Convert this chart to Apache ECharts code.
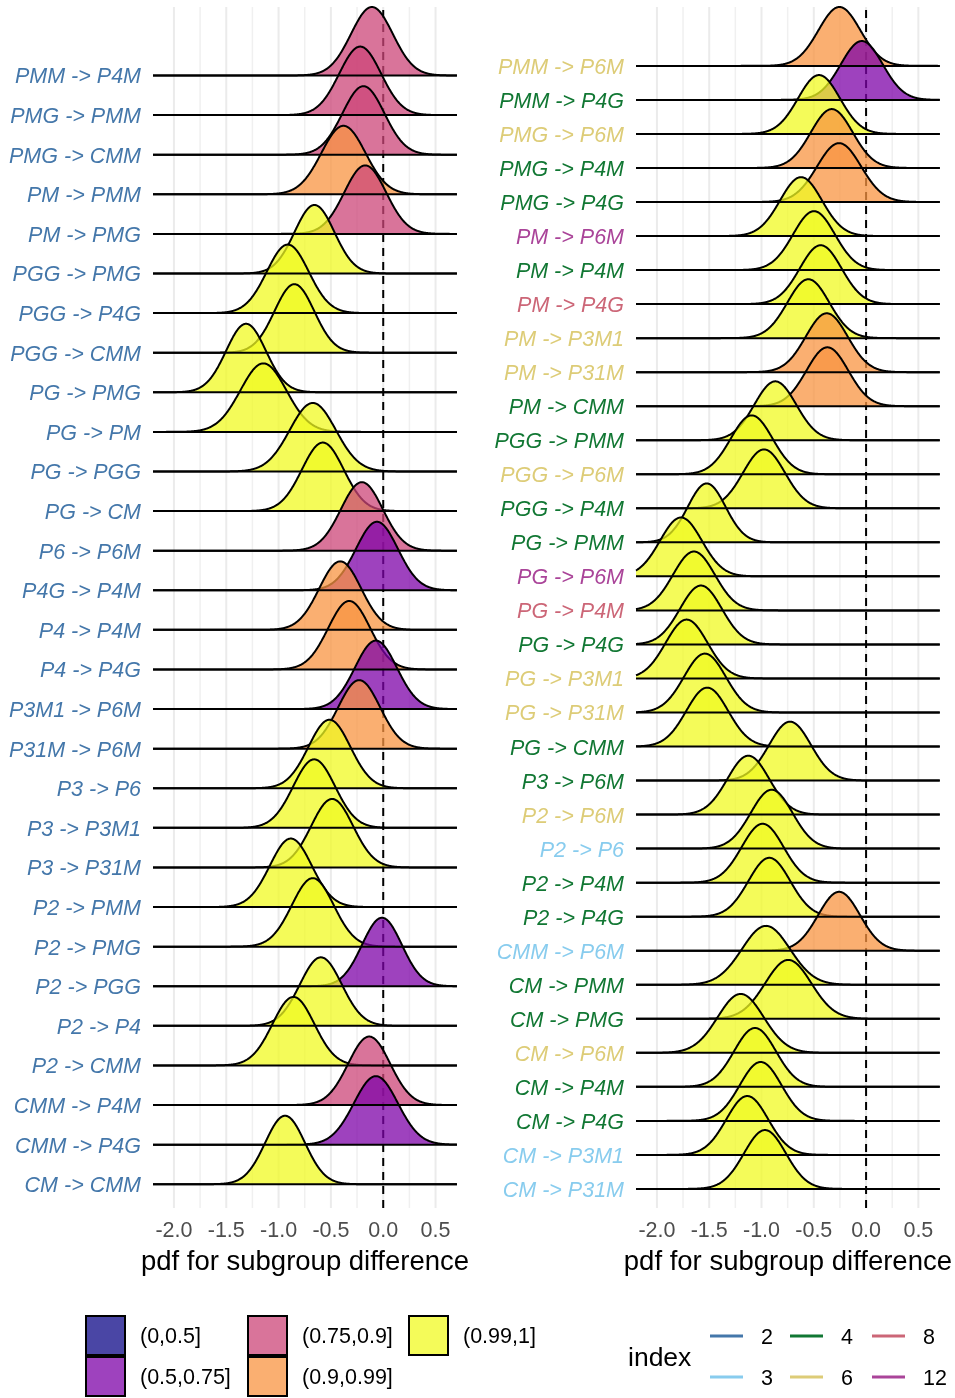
<!DOCTYPE html>
<html><head><meta charset="utf-8">
<script src="https://cdn.jsdelivr.net/npm/echarts@6/dist/echarts.min.js"></script>
<style>html,body{margin:0;padding:0;background:#fff}#c{width:955px;height:1398px}</style>
</head><body><div id="c"></div><script>
// ---------------- data ----------------
const leftLabels = ['PMM -> P4M','PMG -> PMM','PMG -> CMM','PM -> PMM','PM -> PMG','PGG -> PMG','PGG -> P4G','PGG -> CMM','PG -> PMG','PG -> PM','PG -> PGG','PG -> CM','P6 -> P6M','P4G -> P4M','P4 -> P4M','P4 -> P4G','P3M1 -> P6M','P31M -> P6M','P3 -> P6','P3 -> P3M1','P3 -> P31M','P2 -> PMM','P2 -> PMG','P2 -> PGG','P2 -> P4','P2 -> CMM','CMM -> P4M','CMM -> P4G','CM -> CMM'];
const leftMeans = [-0.108,-0.220,-0.189,-0.380,-0.172,-0.657,-0.912,-0.849,-1.311,-1.145,-0.673,-0.577,-0.204,-0.060,-0.411,-0.325,-0.070,-0.230,-0.514,-0.660,-0.488,-0.883,-0.673,-0.012,-0.596,-0.858,-0.134,-0.070,-0.938];
const leftSds = [0.20,0.20,0.20,0.21,0.20,0.19,0.20,0.19,0.19,0.22,0.22,0.20,0.20,0.20,0.20,0.20,0.20,0.20,0.20,0.20,0.20,0.20,0.20,0.19,0.20,0.20,0.20,0.21,0.19];
const leftFill = [2,2,2,3,2,4,4,4,4,4,4,4,2,1,3,3,1,3,4,4,4,4,4,1,4,4,2,1,4];
const leftIndex = [2,2,2,2,2,2,2,2,2,2,2,2,2,2,2,2,2,2,2,2,2,2,2,2,2,2,2,2,2];

const rightLabels = ['PMM -> P6M','PMM -> P4G','PMG -> P6M','PMG -> P4M','PMG -> P4G','PM -> P6M','PM -> P4M','PM -> P4G','PM -> P3M1','PM -> P31M','PM -> CMM','PGG -> PMM','PGG -> P6M','PGG -> P4M','PG -> PMM','PG -> P6M','PG -> P4M','PG -> P4G','PG -> P3M1','PG -> P31M','PG -> CMM','P3 -> P6M','P2 -> P6M','P2 -> P6','P2 -> P4M','P2 -> P4G','CMM -> P6M','CM -> PMM','CM -> PMG','CM -> P6M','CM -> P4M','CM -> P4G','CM -> P3M1','CM -> P31M'];
const rightMeans = [-0.255,-0.041,-0.450,-0.328,-0.258,-0.622,-0.498,-0.434,-0.552,-0.376,-0.370,-0.868,-1.094,-0.976,-1.524,-1.770,-1.646,-1.579,-1.716,-1.541,-1.519,-0.727,-1.126,-0.903,-0.989,-0.925,-0.258,-0.957,-0.744,-1.199,-1.062,-1.008,-1.136,-0.967];
const rightSds = [0.20,0.20,0.20,0.20,0.21,0.20,0.20,0.20,0.20,0.20,0.20,0.20,0.20,0.20,0.18,0.20,0.20,0.20,0.20,0.20,0.20,0.20,0.20,0.20,0.20,0.20,0.20,0.23,0.22,0.22,0.20,0.20,0.20,0.20];
const rightFill = [3,1,4,3,3,4,4,4,4,3,3,4,4,4,4,4,4,4,4,4,4,4,4,4,4,4,3,4,4,4,4,4,4,4];
const rightIndex = [6,4,6,4,4,12,4,8,6,6,4,4,6,4,4,12,8,4,6,6,4,4,6,3,4,4,3,4,4,6,4,4,3,3];

const fillBins = ['(0,0.5]','(0.5,0.75]','(0.75,0.9]','(0.9,0.99]','(0.99,1]'];
const indexLevels = [2,3,4,6,8,12];
const xTicks = [-2.0,-1.5,-1.0,-0.5,0.0,0.5];
const xGrid = [-2.0,-1.75,-1.5,-1.25,-1.0,-0.75,-0.5,-0.25,0.0,0.25,0.5];

// ---------------- styles ----------------
const FONT = '"Liberation Sans", Arial, sans-serif';
const fillBase = ['13,8,135','126,3,168','204,70,120','248,148,65','240,249,33'];
const fillColors = fillBase.map(c => 'rgba(' + c + ',0.75)');
const indexColors = {2:'#4477AA',3:'#88CCEE',4:'#117733',6:'#DDCC77',8:'#CC6677',12:'#AA4499'};
const X_MIN = -2.2, X_MAX = 0.705, H = 1.73;
const panels = [
  {labels: leftLabels, means: leftMeans, sds: leftSds, fill: leftFill, idx: leftIndex, left: 153, yMinPad: 0.6},
  {labels: rightLabels, means: rightMeans, sds: rightSds, fill: rightFill, idx: rightIndex, left: 636, yMinPad: 0.56}
];

const rich = {};
indexLevels.forEach(l => { rich['c' + l] = {color: indexColors[l], fontSize: 21.5, fontStyle: 'italic', fontFamily: FONT, padding: [4, 0, 0, 0]}; });

const grids = [], xAxes = [], yAxes = [], series = [];
panels.forEach((p, k) => {
  const N = p.labels.length;
  const yMin = 1 - p.yMinPad, yMax = N + H;
  grids.push({left: p.left, top: 7, width: 304, height: 1201});
  xAxes.push({type: 'value', gridIndex: k, min: X_MIN, max: X_MAX,
    axisLine: {show: false}, axisTick: {show: false}, splitLine: {show: false},
    axisLabel: {customValues: xTicks, formatter: v => Number(v).toFixed(1), color: '#4D4D4D', fontSize: 21.5, margin: 12, fontFamily: FONT},
    name: 'pdf for subgroup difference', nameLocation: 'middle', nameGap: 40,
    nameTextStyle: {fontSize: 27.5, color: '#000', fontFamily: FONT}});
  const positions = p.labels.map((l, i) => N - i);
  yAxes.push({type: 'value', gridIndex: k, min: yMin, max: yMax,
    axisLine: {show: false}, axisTick: {show: false}, splitLine: {show: false},
    axisLabel: {customValues: positions, margin: 12, rich: rich,
      formatter: v => { const i = N - Math.round(v); return '{c' + p.idx[i] + '|' + p.labels[i] + '}'; }}});
  // vertical grid lines
  series.push({type: 'custom', xAxisIndex: k, yAxisIndex: k, z: 1, silent: true, animation: false,
    data: xGrid.map(v => [v, yMin]),
    renderItem: (params, api) => {
      const v = api.value(0);
      const a = api.coord([v, yMin]), b = api.coord([v, yMax]);
      const major = Math.abs(v * 2 - Math.round(v * 2)) < 1e-9;
      return {type: 'line', shape: {x1: a[0], y1: a[1], x2: b[0], y2: b[1]},
        style: {stroke: major ? '#EBEBEB' : '#F0F0F0', lineWidth: major ? 2 : 1.5}};
    }});
  // dashed zero line
  series.push({type: 'custom', xAxisIndex: k, yAxisIndex: k, z: 1, silent: true, animation: false,
    data: [[0, yMin]],
    renderItem: (params, api) => {
      const a = api.coord([api.value(0), yMin]), b = api.coord([api.value(0), yMax]);
      return {type: 'line', z2: 10, shape: {x1: a[0], y1: a[1], x2: b[0], y2: b[1]},
        style: {stroke: '#000', lineWidth: 2, lineDash: [8, 6]}};
    }});
  // ridges
  const rows = p.labels.map((l, i) => [N - i, p.means[i], p.sds[i], p.fill[i], i]);
  series.push({type: 'custom', xAxisIndex: k, yAxisIndex: k, z: 2, silent: true, animation: false,
    data: rows,
    renderItem: (params, api) => {
      const pos = api.value(0), mu = api.value(1), sd = api.value(2), cat = api.value(3), i = api.value(4);
      const pts = [];
      const step = 0.004;
      for (let x = X_MIN; x <= X_MAX + 1e-9; x += step) {
        const z = (x - mu) / sd;
        pts.push(api.coord([x, pos + H * Math.exp(-0.5 * z * z)]));
      }
      const poly = [api.coord([X_MIN, pos])].concat(pts, [api.coord([X_MAX, pos])]);
      return {type: 'group', children: [
        {type: 'polygon', z2: i * 2, shape: {points: poly}, style: {fill: fillColors[cat], stroke: null}},
        {type: 'polyline', z2: i * 2 + 1, shape: {points: pts}, style: {stroke: '#000', lineWidth: 2, fill: null, lineJoin: 'round'}}
      ]};
    }});
  // baselines on top
  series.push({type: 'custom', xAxisIndex: k, yAxisIndex: k, z: 3, silent: true, animation: false,
    data: positions.map(v => [X_MIN, v]),
    renderItem: (params, api) => {
      const a = api.coord([X_MIN, api.value(1)]), b = api.coord([X_MAX, api.value(1)]);
      return {type: 'line', shape: {x1: a[0], y1: a[1], x2: b[0], y2: b[1]}, style: {stroke: '#000', lineWidth: 2}};
    }});
});

// ---------------- legends (graphic) ----------------
const graphic = [];
const boxPos = [[86,1316],[86,1357],[248,1316],[248,1357],[409,1316]];
fillBins.forEach((b, j) => {
  const [x, y] = boxPos[j];
  graphic.push({type: 'rect', shape: {x: x, y: y, width: 39, height: 39},
    style: {fill: fillColors[j], stroke: '#000', lineWidth: 2}});
  graphic.push({type: 'text', style: {x: x + 54, y: y + 21, text: b, fontSize: 21.5, fontFamily: FONT, fill: '#000', verticalAlign: 'middle', align: 'left'}});
});
graphic.push({type: 'text', style: {x: 628, y: 1359, text: 'index', fontSize: 26.5, fontFamily: FONT, fill: '#000', verticalAlign: 'middle', align: 'left'}});
const linePos = [[710,1336],[710,1377],[790,1336],[790,1377],[872,1336],[872,1377]];
indexLevels.forEach((l, j) => {
  const [x, y] = linePos[j];
  graphic.push({type: 'line', shape: {x1: x, y1: y, x2: x + 33, y2: y}, style: {stroke: indexColors[l], lineWidth: 3}});
  graphic.push({type: 'text', style: {x: x + 51, y: y + 2, text: String(l), fontSize: 21.5, fontFamily: FONT, fill: '#000', verticalAlign: 'middle', align: 'left'}});
});

const chart = echarts.init(document.getElementById('c'), null, {renderer: 'canvas'});
chart.setOption({
  animation: false,
  backgroundColor: '#fff',
  grid: grids, xAxis: xAxes, yAxis: yAxes, series: series, graphic: graphic
});
</script></body></html>
